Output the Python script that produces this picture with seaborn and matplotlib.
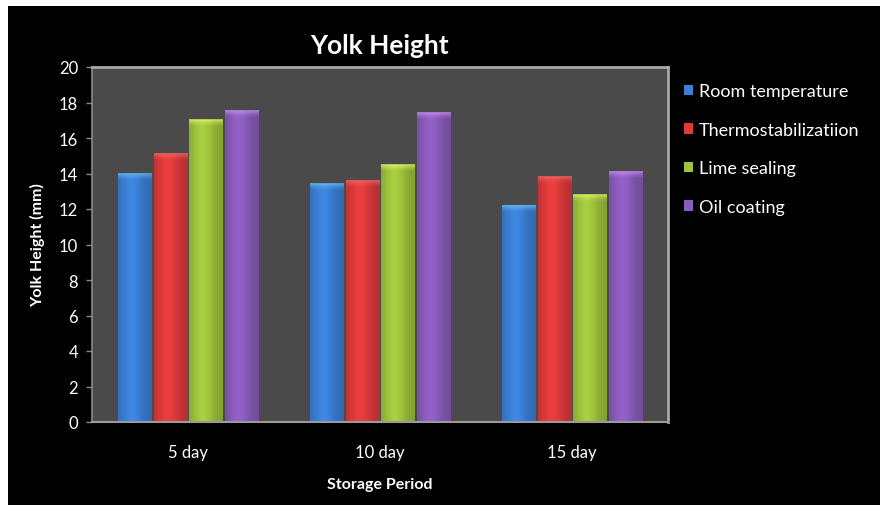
import numpy as np
import pandas as pd
import matplotlib
matplotlib.use("Agg")
import matplotlib.pyplot as plt
from matplotlib.patches import Rectangle
import seaborn as sns

# Yolk height (mm) by storage period and preservation method
periods = ["5 day", "10 day", "15 day"]
methods = ["Room temperature", "Thermostabilizatiion", "Lime sealing", "Oil coating"]
room_temperature = [14.0, 13.4, 12.2]
thermostabilization = [15.1, 13.6, 13.8]
lime_sealing = [17.0, 14.5, 12.8]
oil_coating = [17.5, 17.4, 14.1]
yticks = list(range(0, 21, 2))

colors = ["#3b80d6", "#dd3b3b", "#9ec43c", "#8a5cbc"]

series = [room_temperature, thermostabilization, lime_sealing, oil_coating]
df = pd.DataFrame(
    [(p, m, v) for m, vals in zip(methods, series) for p, v in zip(periods, vals)],
    columns=["Storage Period", "Method", "Yolk Height (mm)"],
)

sns.set_theme(style="dark")
plt.rcParams["font.family"] = ["Lato", "DejaVu Sans"]

fig = plt.figure(figsize=(8.8, 5.06), dpi=100, facecolor="white")
W, H = 880, 506
# black chart panel inside a thin white margin
fig.patches.append(Rectangle((8 / W, 0), 1 - 8 / W, 1 - 7 / H,
                             transform=fig.transFigure, facecolor="black",
                             edgecolor="none", zorder=-10))

ax = fig.add_axes([92 / W, (H - 423) / H, (668 - 92) / W, (423 - 68) / H])
ax.set_facecolor("#4a4a4a")

sns.barplot(data=df, x="Storage Period", y="Yolk Height (mm)", hue="Method",
            hue_order=methods, order=periods, palette=colors, width=0.74,
            gap=0.06, saturation=1, errorbar=None, ax=ax, legend=True,
            linewidth=0, edgecolor="none")

# cylinder-like shading across each bar
xs = np.linspace(0, 1, 64)
shade = 0.82 + 0.24 * np.exp(-((xs - 0.40) / 0.34) ** 2)
cap_h = 0.40
cap_profile = np.linspace(0, 1, 16) ** 1.5
for patch in list(ax.patches):
    h = patch.get_height()
    if h <= 0:
        continue
    x0, w = patch.get_x(), patch.get_width()
    rgb = np.array(matplotlib.colors.to_rgb(patch.get_facecolor()))
    img = np.clip(rgb[None, None, :] * shade[None, :, None], 0, 1)
    im = ax.imshow(img, extent=(x0, x0 + w, 0, h), aspect="auto",
                   origin="lower", zorder=patch.get_zorder() + 0.1,
                   interpolation="bilinear")
    im.set_clip_path(patch)
    # soft lighter rim at the top of the bar
    light = np.clip(rgb * 1.3 + 0.12, 0, 1)
    cap = np.empty((16, 64, 4))
    cap[..., :3] = light
    cap[..., 3] = (cap_profile[:, None] * 0.75
                   * (0.6 + 0.4 * shade[None, :] / shade.max()))
    ax.imshow(cap, extent=(x0, x0 + w, h - cap_h, h), aspect="auto",
              origin="lower", zorder=patch.get_zorder() + 0.2,
              interpolation="bilinear")

ax.set_xlim(-0.5, 2.5)
ax.set_ylim(0, 20)
ax.set_yticks(yticks)
ax.set_yticklabels([str(t) for t in yticks])
ax.grid(False)

for side in ["top", "right"]:
    ax.spines[side].set_visible(True)
    ax.spines[side].set_color("#a8a8a8")
    ax.spines[side].set_linewidth(2.0)
ax.spines["left"].set_color("#8a8a8a")
ax.spines["left"].set_linewidth(1.2)
ax.spines["bottom"].set_color("#9a9a9a")
ax.spines["bottom"].set_linewidth(1.5)

ax.tick_params(axis="y", colors="#8a8a8a", labelcolor="white", length=4,
               width=1, direction="out", left=True, labelsize=12, pad=6)
ax.tick_params(axis="x", bottom=False, labelcolor="white", labelsize=12, pad=10)

ax.set_title("Yolk Height", color="white", fontsize=19, fontweight="bold", pad=10)
ax.set_xlabel("Storage Period", color="white", fontsize=11.5,
              fontweight="bold", labelpad=12)
ax.set_ylabel("Yolk Height (mm)", color="white", fontsize=11.5,
              fontweight="bold", labelpad=10)

leg = ax.legend(loc="upper left", bbox_to_anchor=(1.0, 1.0), frameon=False,
                fontsize=13, handlelength=0.5, handleheight=0.5,
                handletextpad=0.3, labelspacing=1.25, borderaxespad=0.5)
for txt in leg.get_texts():
    txt.set_color("white")

fig.savefig("out.png", dpi=100, facecolor=fig.get_facecolor())
